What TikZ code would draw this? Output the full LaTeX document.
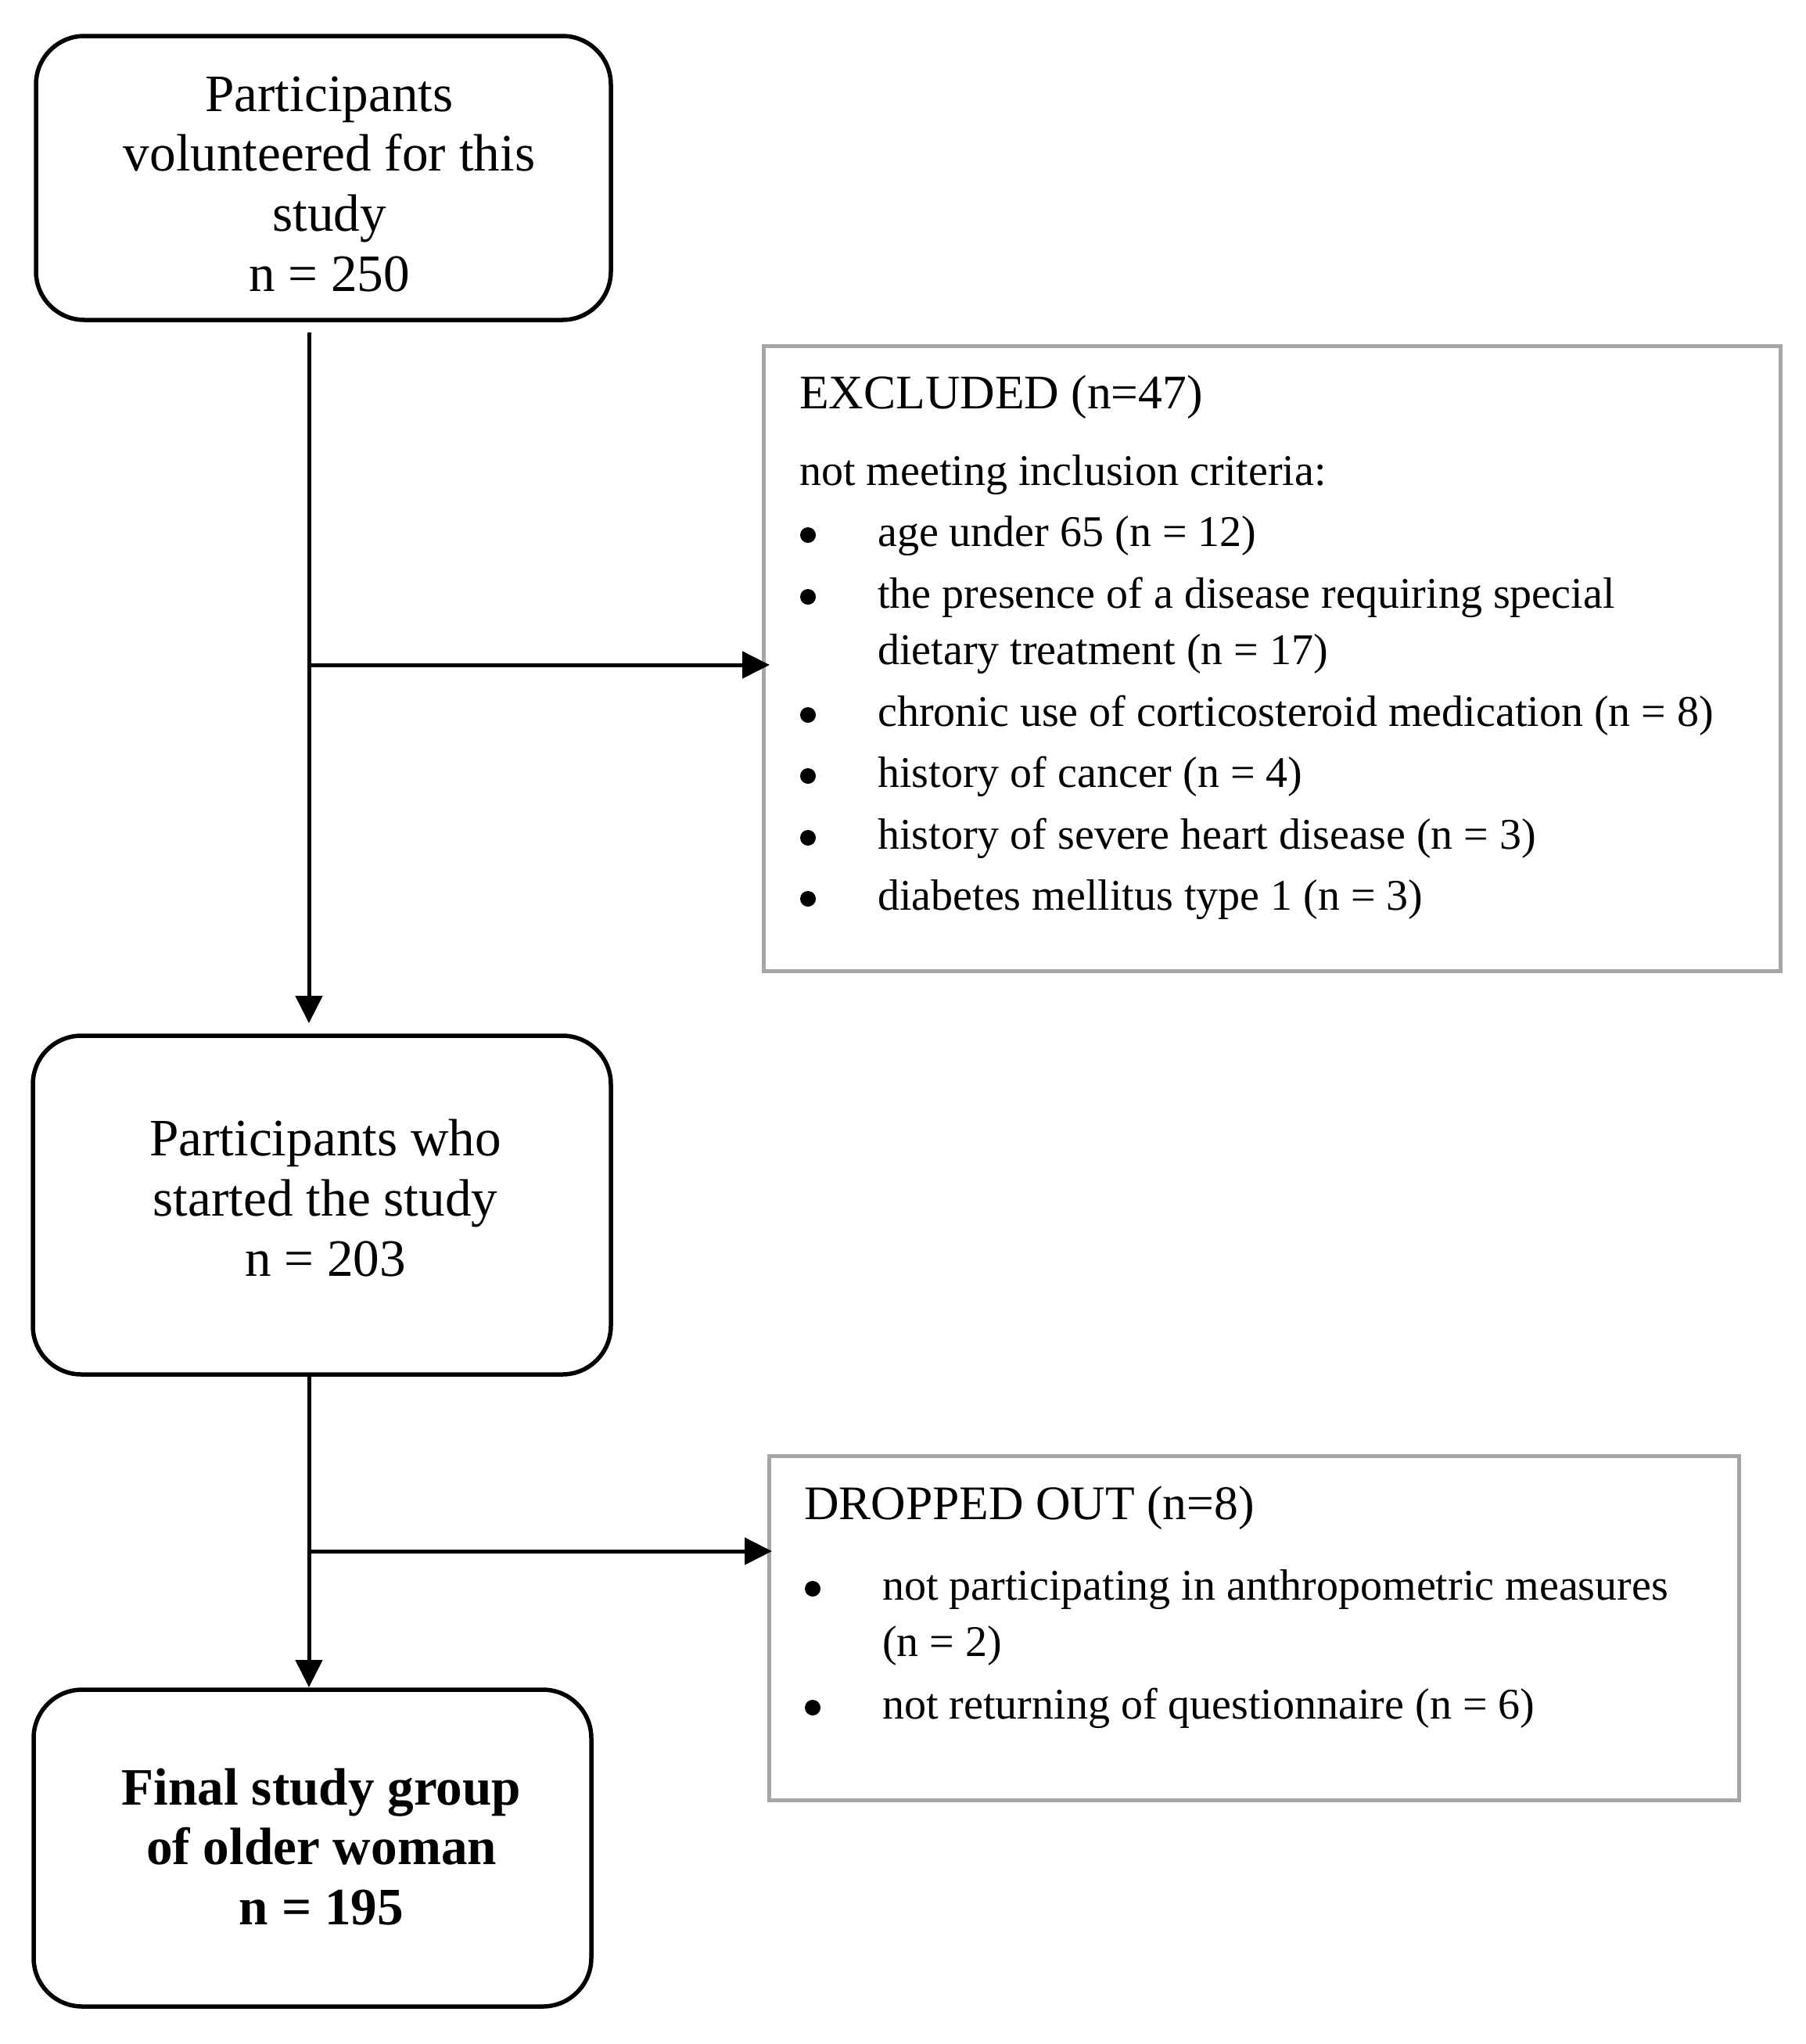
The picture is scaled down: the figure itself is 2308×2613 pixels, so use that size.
\documentclass[tikz,border=0pt]{standalone}
\usepackage{fontspec}
\setmainfont{Liberation Serif}
\usetikzlibrary{arrows.meta}
\definecolor{boxgrey}{HTML}{A6A6A6}
\begin{document}
\begin{tikzpicture}[x=1pt,y=-1pt,
  rbox/.style={draw=black, line width=5.5pt, rounded corners=62pt, rectangle, inner sep=0pt, outer sep=0pt},
  gbox/.style={draw=boxgrey, line width=5pt, rectangle, inner sep=0pt, outer sep=0pt},
  big/.style={inner sep=0pt, anchor=base, font=\fontsize{67.2}{77}\selectfont},
  bigb/.style={inner sep=0pt, anchor=base, font=\fontsize{67.2}{77}\selectfont\bfseries},
  ttl/.style={inner sep=0pt, anchor=base west, font=\fontsize{61.6}{70}\selectfont},
  itm/.style={inner sep=0pt, anchor=base west, font=\fontsize{56}{64}\selectfont},
  bul/.style={circle, fill=black, draw=none, inner sep=0pt, minimum size=20pt},
  conn/.style={line width=5pt, -{Triangle[length=35pt,width=34pt]}}
]
\useasboundingbox (0,0) rectangle (2308,2613);

% boxes
\node[rbox, minimum width=735pt, minimum height=363pt] (b1) at (413.5,227.5) {};
\node[rbox, minimum width=739pt, minimum height=433pt] (b2) at (411.5,1540.5) {};
\node[rbox, minimum width=713pt, minimum height=405pt] (b3) at (399.5,2362.5) {};
\node[gbox, minimum width=1300pt, minimum height=799pt] (ex) at (1626,841.5) {};
\node[gbox, minimum width=1240pt, minimum height=440pt] (dr) at (1603,2081) {};

% box 1 text
\node[big] (t11) at (421,142) {Participants};
\node[big] (t12) at (421,218) {volunteered for this};
\node[big] (t13) at (421,295) {study};
\node[big] (t14) at (421,372) {n = 250};

% box 2 text
\node[big] (t21) at (416,1477) {Participants who};
\node[big] (t22) at (416,1554) {started the study};
\node[big] (t23) at (416,1631) {n = 203};

% box 3 text
\node[bigb] (t31) at (411,2307) {Final study group};
\node[bigb] (t32) at (411,2383) {of older woman};
\node[bigb] (t33) at (411,2460) {n = 195};

% excluded text
\node[ttl] (ext) at (1022,522) {EXCLUDED (n=47)};
\node[itm] (ex0) at (1022,620) {not meeting inclusion criteria:};
\node[bul] (exb1) at (1033,684) {};
\node[itm] (ex1) at (1122,698) {age under 65 (n = 12)};
\node[bul] (exb2) at (1033,763) {};
\node[itm] (ex2) at (1122,777) {the presence of a disease requiring special};
\node[itm] (ex2b) at (1122,849) {dietary treatment (n = 17)};
\node[bul] (exb3) at (1033,914) {};
\node[itm] (ex3) at (1122,928) {chronic use of corticosteroid medication (n = 8)};
\node[bul] (exb4) at (1033,992) {};
\node[itm] (ex4) at (1122,1006) {history of cancer (n = 4)};
\node[bul] (exb5) at (1033,1071) {};
\node[itm] (ex5) at (1122,1085) {history of severe heart disease (n = 3)};
\node[bul] (exb6) at (1033,1149) {};
\node[itm] (ex6) at (1122,1163) {diabetes mellitus type 1 (n = 3)};

% dropped text
\node[ttl] (drt) at (1028,1942) {DROPPED OUT (n=8)};
\node[bul] (drb1) at (1039,2031) {};
\node[itm] (dr1) at (1128,2045) {not participating in anthropometric measures};
\node[itm] (dr1b) at (1128,2117) {(n = 2)};
\node[bul] (drb2) at (1039,2183) {};
\node[itm] (dr2) at (1128,2197) {not returning of questionnaire (n = 6)};

% connectors
\coordinate (j1) at (395,850);
\coordinate (j2) at (395,1983);
\draw[conn, shorten <=16pt, shorten >=16pt] (b1.south -| j1) -- (b2.north -| j1);
\draw[conn, shorten >=-8pt] (j1) -- (ex.west |- j1);
\draw[conn, shorten >=3pt] (b2.south -| j2) -- (b3.north -| j2);
\draw[conn, shorten >=-4pt] (j2) -- (dr.west |- j2);
\end{tikzpicture}
\end{document}
